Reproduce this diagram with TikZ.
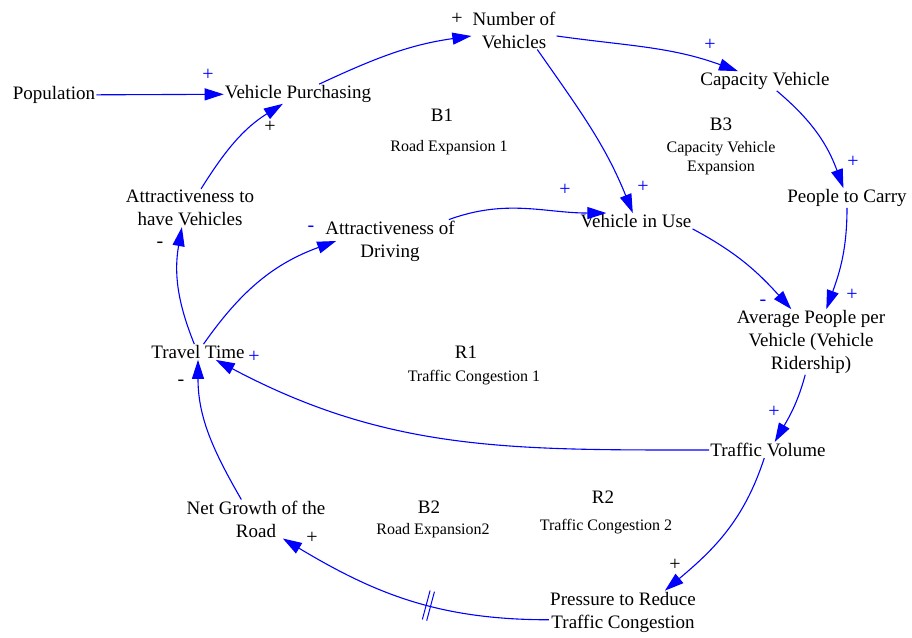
\documentclass[tikz,border=0pt]{standalone}
\usepackage{fontspec}
\setmainfont{Liberation Serif}
\usetikzlibrary{arrows.meta,decorations.markings}
\begin{document}
\begin{tikzpicture}[x=1pt,y=1pt,
  var/.style={inner sep=1pt, font=\fontsize{19}{23}\selectfont, align=center, text=black},
  loopname/.style={inner sep=1pt, font=\fontsize{19}{23}\selectfont},
  loopdesc/.style={inner sep=1pt, font=\fontsize{16}{19}\selectfont, align=center},
  pol/.style={inner sep=0pt, font=\fontsize{20}{22}\selectfont},
  bpol/.style={pol, text=blue},
  kpol/.style={pol, text=black},
  link/.style={draw=blue, line width=1.1pt, -{Triangle[length=19pt,width=12pt]}},
  delay/.style={postaction={decorate,decoration={markings,
     mark=at position 0.43 with {\draw[blue,line width=1pt,-] (-2,-15)--(-2,15) (2.5,-15)--(2.5,15);}}}}
]
\useasboundingbox (0,0) rectangle (912,637);

% variables
\node[var] (pop)  at (54,542)  {Population};
\node[var] (vp)   at (298,543) {Vehicle Purchasing};
\node[var] (nv)   at (514,607) {Number of\\Vehicles};
\node[var] (cv)   at (765,556) {Capacity Vehicle};
\node[var] (ptc)  at (847,439) {People to Carry};
\node[var] (viu)  at (636,416) {Vehicle in Use};
\node[var] (aod)  at (390,396) {Attractiveness of\\Driving};
\node[var] (athv) at (190,429) {Attractiveness to\\have Vehicles};
\node[var] (tt)   at (198,285) {Travel Time};
\node[var] (apv)  at (811,295) {Average People per\\Vehicle (Vehicle\\Ridership)};
\node[var] (tv)   at (768,187) {Traffic Volume};
\node[var] (ng)   at (256,118) {Net Growth of the\\Road};
\node[var] (prtc) at (623,25)  {Pressure to Reduce\\Traffic Congestion};

% loop labels
\node[loopname] (b1)  at (442,522) {B1};
\node[loopdesc] (b1d) at (449,489) {Road Expansion 1};
\node[loopname] (b3)  at (721,513) {B3};
\node[loopdesc] (b3d) at (721,479) {Capacity Vehicle\\Expansion};
\node[loopname] (r1)  at (466,285) {R1};
\node[loopdesc] (r1d) at (474,259) {Traffic Congestion 1};
\node[loopname] (b2)  at (429,130) {B2};
\node[loopdesc] (b2d) at (433,106) {Road Expansion2};
\node[loopname] (r2)  at (603,140) {R2};
\node[loopdesc] (r2d) at (606,110) {Traffic Congestion 2};

% links
\draw[link] (pop) -- (vp);
\draw[link] (vp) to[out=25,in=188] (nv);
\draw[link] (nv) to[out=-8,in=160] (cv);
\draw[link] (nv.-40) to[out=-55,in=112] (viu);
\draw[link] (cv) to[out=-40,in=110] (ptc);
\draw[link] (aod) to[out=20,in=180] (viu.165);
\draw[link] (viu.south east) to[out=-28,in=132] (apv.121);
\draw[link] (ptc) to[out=-90,in=70] (apv.65);
\draw[link] (apv.-100) to[out=-105,in=60] (tv.50);
\draw[link] (tv.west) to[out=180,in=-28] (tt.-24);
\draw[link] (tv.-115) to[out=-108,in=40] (prtc.27);
\draw[link,delay] (prtc.186) to[out=180,in=-31] (ng.-36);
\draw[link] (ng.127) to[out=120,in=-90] (tt.south);
\draw[link] (tt.115) to[out=112,in=-100] (athv.-113);
\draw[link] (tt.55) to[out=55,in=200] ([xshift=12pt]aod.west);
\draw[link] (athv.60) to[out=58,in=212] (vp.-147);

% polarities
\node[bpol] (s1)  at (208,562) {+};
\node[kpol] (s2)  at (270,510) {+};
\node[kpol] (s3)  at (457,618) {+};
\node[bpol] (s4)  at (710,592) {+};
\node[bpol] (s5)  at (853,475) {+};
\node[bpol] (s6)  at (643,450) {+};
\node[bpol] (s7)  at (565,447) {+};
\node[bpol] (s8)  at (311,408) {-};
\node[kpol] (s9)  at (160,392) {-};
\node[bpol] (s10) at (763,334) {-};
\node[bpol] (s11) at (852,342) {+};
\node[bpol] (s12) at (774,225) {+};
\node[bpol] (s13) at (254,280) {+};
\node[kpol] (s14) at (181,254) {-};
\node[kpol] (s15) at (675,72)  {+};
\node[kpol] (s16) at (312,99)  {+};
\end{tikzpicture}
\end{document}
